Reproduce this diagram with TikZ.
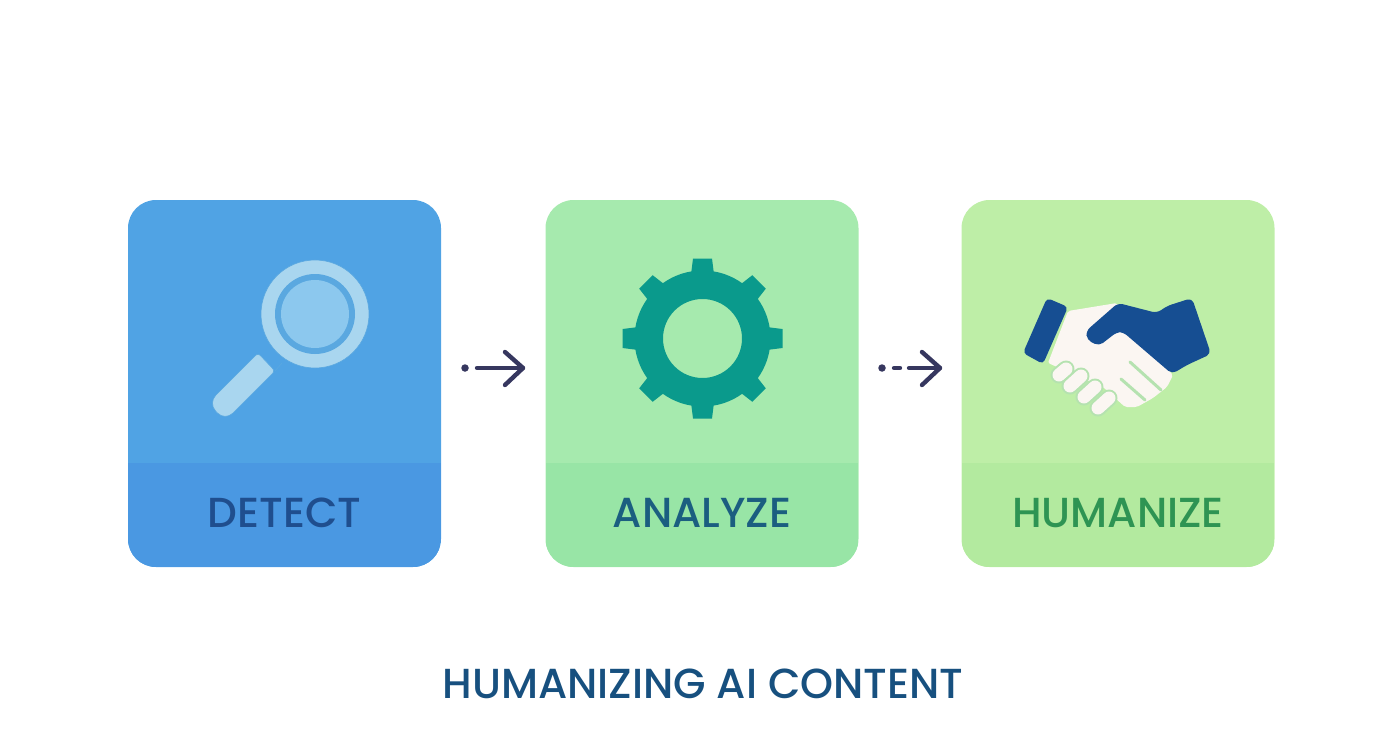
\documentclass[tikz,border=0pt]{standalone}
\usepackage{fontspec}
\setmainfont{Poppins Medium}
\usepackage{tikz}
\definecolor{detectfill}{HTML}{50A3E4}
\definecolor{detectband}{HTML}{4A98E2}
\definecolor{analyzefill}{HTML}{A6EAAE}
\definecolor{analyzeband}{HTML}{98E5A6}
\definecolor{humanizefill}{HTML}{BEEEA7}
\definecolor{humanizeband}{HTML}{B3EA9F}
\definecolor{detecttext}{HTML}{1F4E8E}
\definecolor{analyzetext}{HTML}{1B5E80}
\definecolor{humanizetext}{HTML}{2E9453}
\definecolor{titletext}{HTML}{17507F}
\definecolor{arrowink}{HTML}{36375F}
\definecolor{lensring}{HTML}{A9D6EF}
\definecolor{lensdisc}{HTML}{8CC8EE}
\definecolor{lensedge}{HTML}{5AA8E0}
\definecolor{gearteal}{HTML}{0A9A8C}
\definecolor{cuffblue}{HTML}{164E92}
\definecolor{palehand}{HTML}{FBF6F2}
\definecolor{fingerline}{HTML}{B5E2B0}
\tikzset{x=1pt, y=-1pt}
\tikzset{stagecard/.style={rounded corners=28pt, minimum width=313pt, minimum height=367pt, inner sep=0pt}}
\tikzset{stagelabel/.style={font=\fontsize{42}{42}\selectfont, inner sep=0pt}}
\tikzset{flowline/.style={draw=arrowink, line width=4.4pt, line cap=round, line join=round}}
\tikzset{flowdot/.style={circle, fill=arrowink, inner sep=0pt, minimum size=7.5pt}}
\newcommand{\stagecard}[5]{
	\node[stagecard, fill=#3, path picture={\fill[#4, sharp corners] (path picture bounding box.south west) rectangle ([yshift=104pt]path picture bounding box.south east);}] (#1) at (#2,383.5) {};
	\node[stagelabel, text=#5] (#1label) at (#2,513) {\MakeUppercase{#1}};
}
\begin{document}
\begin{tikzpicture}
	\useasboundingbox (0,0) rectangle (1392,752);
	\stagecard{detect}{284.5}{detectfill}{detectband}{detecttext}
	\stagecard{analyze}{702}{analyzefill}{analyzeband}{analyzetext}
	\stagecard{humanize}{1118}{humanizefill}{humanizeband}{humanizetext}
	% magnifier
	\draw[lensedge, fill=lensring, line width=.6pt] (315,314) circle (54);
	\fill[lensedge] (315,314) circle (40);
	\fill[lensdisc] (315,314) circle (34);
	\draw[lensedge, line width=.6pt] (275,371) -- (282,363);
	\draw[lensedge, fill=lensring, line width=.6pt, rounded corners=3pt] (258,353) -- (275,371) [rounded corners=11pt] -- (225,421) -- (208,403) [rounded corners=3pt] -- cycle;
	% gear
	\fill[gearteal, even odd rule] (702.5,338.5) circle (68) (702.5,338.5) circle (39.5);
	\foreach \ang in {0,45,...,315}
		\fill[gearteal, shift={(702.5,338.5)}, rotate=\ang] (-11.5,-64) -- (-9.5,-80) -- (9.5,-80) -- (11.5,-64) -- cycle;
	% handshake
	\fill[palehand, rounded corners=2pt] (1068,311) -- (1117,303) -- (1133,333) -- (1173,375) -- (1167,387) -- (1153,398) -- (1137,407) -- (1125,407) -- (1103,387) -- (1048,363) -- cycle;
	\foreach \fx/\fy/\gx/\gy in {1059/375/1066/369, 1070/386/1081/376, 1084/397/1095/387, 1098/408/1109/398} {
		\draw[fingerline, line width=17pt, line cap=round] (\fx,\fy) -- (\gx,\gy);
		\draw[palehand, line width=13pt, line cap=round] (\fx,\fy) -- (\gx,\gy);
	}
	\draw[fingerline, line width=3pt, line cap=round] (1130,362) -- (1161,390);
	\draw[fingerline, line width=3pt, line cap=round] (1121,379) -- (1145,400);
	\fill[cuffblue, rounded corners=4pt] (1047,298) -- (1068,307) -- (1043,364) -- (1023,353) -- cycle;
	\fill[cuffblue, rounded corners=5pt] (1118,303) -- (1157,313) -- (1167,306) -- (1192,298) -- (1211,354) -- (1187,365) -- (1172,374) -- (1123,332) -- (1117,332) -- (1099,346) -- (1087,340) -- (1086,331) -- cycle;
	% arrows
	\node[flowdot] (dotone) at (465,368) {};
	\coordinate (lineone) at (477,368);
	\coordinate (tipone) at (523,368);
	\coordinate (barbonea) at (505,352);
	\coordinate (barboneb) at (505,385);
	\draw[flowline] (lineone) -- (tipone);
	\draw[flowline] (barbonea) -- (tipone) -- (barboneb);
	\node[flowdot] (dottwo) at (882,368) {};
	\coordinate (linetwo) at (909,368);
	\coordinate (tiptwo) at (940,368);
	\coordinate (barbtwoa) at (922,352);
	\coordinate (barbtwob) at (922,385);
	\coordinate (dashtwoa) at (894,368);
	\coordinate (dashtwob) at (900,368);
	\draw[flowline] (dashtwoa) -- (dashtwob);
	\draw[flowline] (linetwo) -- (tiptwo);
	\draw[flowline] (barbtwoa) -- (tiptwo) -- (barbtwob);
	\node[font=\fontsize{42}{42}\selectfont, text=titletext, inner sep=0pt] (title) at (703,684) {HUMANIZING AI CONTENT};
\end{tikzpicture}
\end{document}
